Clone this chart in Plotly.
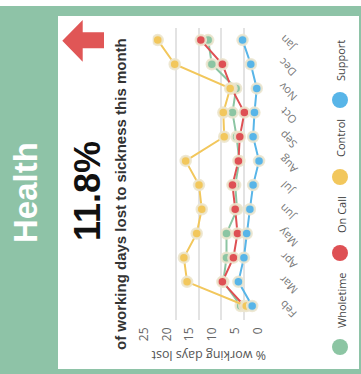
import plotly.graph_objects as go

W, H = 361, 374

months = ["Feb", "Mar", "Apr", "May", "Jun", "Jul", "Aug", "Sep", "Oct", "Nov", "Dec", "Jan"]
series_names = ["Wholetime", "On Call", "Control", "Support"]
wholetime = [5.8, 9.6, 8.9, 8.9, 6.6, 7.0, 6.1, 6.7, 7.6, 6.8, 12.1, 12.9]
on_call = [5.0, 9.8, 7.4, 6.5, 7.0, 7.6, 6.3, 6.0, 5.0, 7.8, 9.8, 14.5]
control = [4.6, 17.5, 18.2, 15.4, 14.3, 14.9, 17.8, 9.4, 9.6, 8.1, 20.2, 23.9]
support = [3.3, 6.3, 5.1, 4.5, 3.8, 3.1, 1.8, 3.1, 2.8, 2.3, 3.6, 5.4]
colors = ["#8CC5A3", "#DE5054", "#F2C75C", "#58B5E8"]
value_ticks = [0, 5, 10, 15, 20, 25]

headline = "11.8%"
subtitle = "of working days lost to sickness this month"
section = "Health"
axis_title = "% working days lost"


def px(x):
    return x / W


def py(y):
    return 1 - y / H


fig = go.Figure()
for name, vals, col in zip(series_names, [wholetime, on_call, control, support], colors):
    fig.add_trace(go.Scatter(
        x=vals, y=months, mode="lines+markers", name=name,
        line=dict(color=col, width=2),
        marker=dict(color=col, size=10, line=dict(color="rgba(236,229,206,0.9)", width=2.5)),
        showlegend=False,
    ))

shapes = [
    dict(type="rect", xref="paper", yref="paper", x0=0, x1=1, y0=py(374), y1=py(6),
         fillcolor="#8EC3A7", line=dict(width=0), layer="below"),
    dict(type="rect", xref="paper", yref="paper", x0=px(58), x1=px(359), y0=py(369), y1=py(16),
         fillcolor="white", line=dict(width=0), layer="below"),
]
# arrow (up = increase, drawn rotated)
pts = [(62.3, 40.7), (82.7, 20), (82.7, 32.3), (104, 32.3), (104, 48.3), (82.7, 48.3), (82.7, 61.7)]
path = "M " + " L ".join(f"{px(a):.5f},{py(b):.5f}" for a, b in pts) + " Z"
shapes.append(dict(type="path", xref="paper", yref="paper", path=path,
                   fillcolor="#E05656", line=dict(width=0)))


def ann(text, x, y, angle, family, size, color):
    return dict(text=text, x=px(x), y=py(y), xref="paper", yref="paper",
                xanchor="center", yanchor="middle", showarrow=False, textangle=angle,
                font=dict(family=family, size=size, color=color))


annotations = [
    ann(f"<b>{section}</b>", 26, 193, -90, "Liberation Sans", 33, "white"),
    ann(f"<b>{headline}</b>", 87, 191, -90, "Liberation Sans", 36, "#111"),
    ann(f"<b>{subtitle}</b>", 120, 194, -90, "Liberation Sans", 15, "#333"),
    ann(axis_title, 209, 356, 180, "Open Sans", 12.5, "#555"),
]

# month labels (rotated category labels), placed on the category scale
for m in months:
    annotations.append(dict(text=m, x=px(288), y=m, xref="paper", yref="y",
                            xanchor="center", yanchor="middle", yshift=-3.5,
                            showarrow=False, textangle=-135,
                            font=dict(family="Open Sans", size=11, color="#777")))

# legend (drawn rotated)
leg_y = [347, 253, 177, 100]
leg_text_y = [300, 215, 138, 61]
for name, col, cy, ty in zip(series_names, colors, leg_y, leg_text_y):
    shapes.append(dict(type="circle", xref="paper", yref="paper",
                       x0=px(332), x1=px(348), y0=py(cy + 8), y1=py(cy - 8),
                       fillcolor=col, line=dict(width=0)))
    annotations.append(ann(name, 341, ty, -90, "Open Sans", 11, "#444"))

fig.update_layout(
    width=W, height=H, margin=dict(l=0, r=0, t=0, b=0, autoexpand=False),
    paper_bgcolor="white", plot_bgcolor="rgba(0,0,0,0)",
    shapes=shapes, annotations=annotations,
    xaxis=dict(domain=[px(152.7), px(267.3)], range=[25, 0], tickvals=value_ticks,
               automargin=False,
               showgrid=True, gridcolor="#E3E3E3", gridwidth=1.5, zeroline=False,
               showline=False, tickangle=-90, ticks="",
               ticklabelshift=9, ticklabelstandoff=4,
               tickfont=dict(family="Open Sans", size=12, color="#666")),
    yaxis=dict(domain=[py(320), py(28)], type="category", categoryorder="array",
               categoryarray=months, range=[-0.58, 11.5], side="right",
               automargin=False, showticklabels=False,
               showgrid=False, zeroline=False, showline=False, ticks=""),
)

fig.write_html("out.html")
